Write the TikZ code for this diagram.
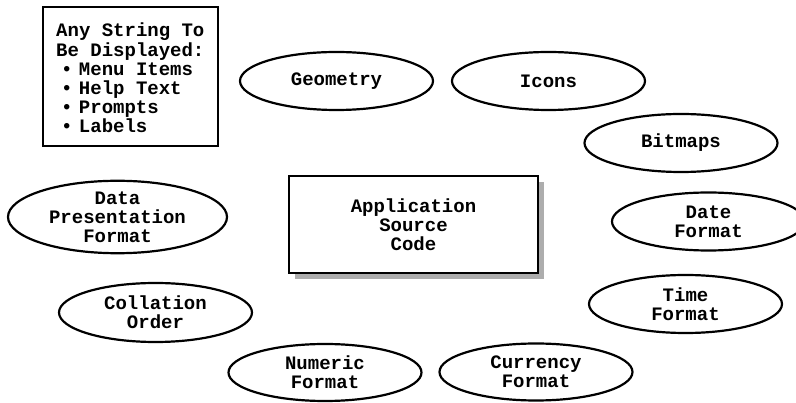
\documentclass[tikz,border=0pt]{standalone}
\usepackage{fontspec}
\setmainfont{Liberation Mono}
\usetikzlibrary{shapes.geometric}
% bullet set a little to the right of its character cell
\newcommand{\itm}{\rlap{\hspace{5pt}\textbullet}\phantom{\textbullet}}
\tikzset{
  lbl/.style={font=\bfseries\fontsize{19}{19.2}\selectfont, align=center},
  oval/.style={lbl, draw, ellipse, line width=2.2pt, inner sep=0pt,
               minimum width=193pt, minimum height=58pt},
  srcbox/.style={lbl, draw, fill=white, line width=2.6pt, inner sep=0pt,
                 minimum width=249pt, minimum height=97pt},
  listbox/.style={draw, line width=2.4pt, inner sep=0pt,
                  minimum width=175pt, minimum height=139pt},
  shadow/.style={fill=black!32}
}
\begin{document}
\begin{tikzpicture}[x=1pt,y=-1pt]
  \useasboundingbox (0,0) rectangle (796,403);
  \clip (0,0) rectangle (796,403);

  % list of displayable strings
  \node[listbox] (strings) at (130.5,76.5) {};
  \node[font=\bfseries\fontsize{19}{19.2}\selectfont, align=left,
        anchor=north west, inner sep=0pt] (stringtext) at (56,23)
    {Any String To\\Be Displayed:\\%
     \itm{} Menu Items\\\itm{} Help Text\\%
     \itm{} Prompts\\\itm{} Labels};

  % central box with drop shadow
  \fill[shadow] (295,182) rectangle (544,279);
  \node[srcbox] (src) at (413.5,224.5) {Application\\Source\\Code};

  % surrounding locale-dependent items
  \node[oval] (geometry) at (336.5,81) {Geometry};
  \node[oval] (icons)    at (548.5,81) {Icons};
  \node[oval] (bitmaps)  at (681,143)  {Bitmaps};
  \node[oval] (date)     at (708.5,221.5) {Date\\Format};
  \node[oval] (time)     at (685.5,304) {Time\\Format};
  \node[oval, minimum height=57pt] (currency) at (536,372) {Currency\\Format};
  \node[oval, minimum height=57pt] (numeric)  at (325,372.5) {Numeric\\Format};
  \node[oval, minimum height=59pt] (collation) at (155.5,312.5) {Collation\\Order};
  \node[oval, minimum width=219pt, minimum height=70pt] (datapres) at (117.5,217)
    {Data\\Presentation\\Format};
\end{tikzpicture}
\end{document}
